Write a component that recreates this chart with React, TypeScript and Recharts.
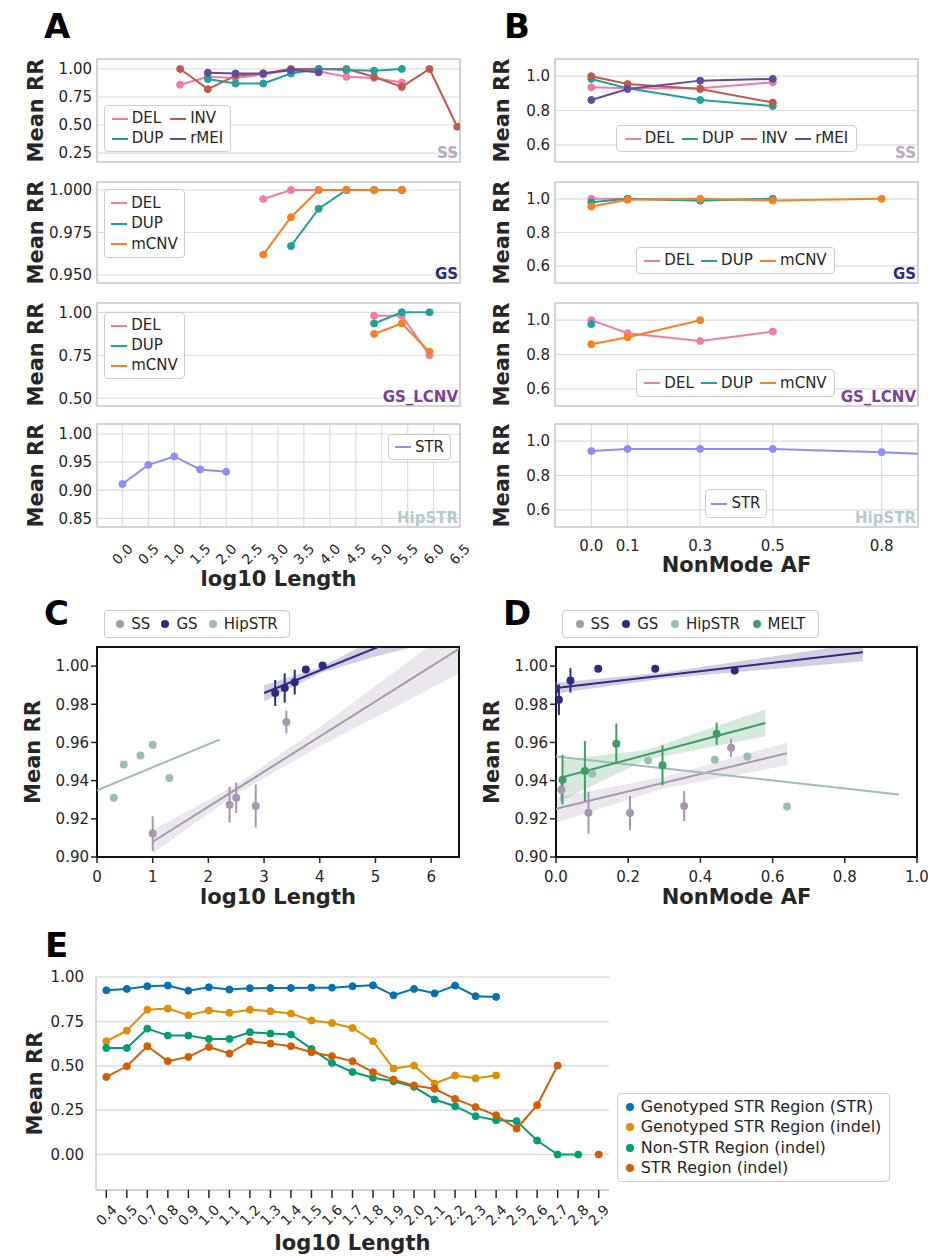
import React from "react";
import {
  LineChart,
  Line,
  ComposedChart,
  Scatter,
  Area,
  ErrorBar,
  XAxis,
  YAxis,
  CartesianGrid,
  ReferenceArea,
  Legend,
} from "recharts";

const FONT = "'DejaVu Sans', sans-serif";
const INK = "#262626";
const GRID = "#dcdcdc";
const FRAME = "#cccccc";

const C_DEL = "#f27ba3";
const C_DUP = "#21a19c";
const C_INV = "#c2584d";
const C_RMEI = "#604c9a";
const C_MCNV = "#f98020";
const C_STR = "#8b8ff3";

const C_SS = "#a697ae";
const C_GS = "#2e2a80";
const C_HIP = "#9dbcb7";
const C_MELT = "#3f9c63";

const C_E = ["#0173b2", "#de8f05", "#029e73", "#d55e00"];

// ---------- A: mean RR by log10 length ----------
const lenTicks = [0, 0.5, 1, 1.5, 2, 2.5, 3, 3.5, 4, 4.5, 5, 5.5, 6, 6.5];

const ssLenX = [1.5, 2, 2.5, 3, 3.5, 4, 4.5, 5, 5.5, 6, 6.5];
const ssLenDEL = [0.86, 0.93, 0.92, 0.95, 0.99, 0.98, 0.93, 0.92, 0.88, null, null];
const ssLenDUP = [null, 0.91, 0.87, 0.87, 0.96, 1.0, 0.99, 0.985, 1.0, null, null];
const ssLenINV = [1.0, 0.82, 0.94, 0.96, 1.0, 1.0, 1.0, 0.93, 0.84, 1.0, 0.485];
const ssLenRMEI = [null, 0.967, 0.96, 0.96, 0.99, 0.97, null, null, null, null, null];

const gsLenX = [3, 3.5, 4, 4.5, 5, 5.5];
const gsLenDEL = [0.9947, 1.0, 1.0, 1.0, 1.0, 1.0];
const gsLenDUP = [null, 0.967, 0.989, 1.0, 1.0, 1.0];
const gsLenMCNV = [0.962, 0.984, 1.0, 1.0, 1.0, 1.0];

const lcnvLenX = [5, 5.5, 6];
const lcnvLenDEL = [0.98, 0.98, 0.75];
const lcnvLenDUP = [0.935, 1.0, 1.0];
const lcnvLenMCNV = [0.874, 0.935, 0.77];

const hipLenX = [0, 0.5, 1, 1.5, 2];
const hipLenSTR = [0.911, 0.945, 0.96, 0.937, 0.933];

// ---------- B: mean RR by non-mode allele frequency ----------
const afTicks = [0, 0.1, 0.3, 0.5, 0.8];

const ssAfX = [0, 0.1, 0.3, 0.5];
const ssAfDEL = [0.935, 0.93, 0.93, 0.964];
const ssAfDUP = [0.984, 0.93, 0.861, 0.826];
const ssAfINV = [1.0, 0.954, 0.925, 0.846];
const ssAfRMEI = [0.861, 0.925, 0.974, 0.984];

const gsAfX = [0, 0.1, 0.3, 0.5, 0.8];
const gsAfDEL = [1.0, 1.0, 0.99, 1.0, null];
const gsAfDUP = [0.98, 1.0, 0.99, 1.0, null];
const gsAfMCNV = [0.955, 0.995, 1.0, 0.99, 1.0];

const lcnvAfX = [0, 0.1, 0.3, 0.5];
const lcnvAfDEL = [1.0, 0.924, 0.879, 0.934];
const lcnvAfDUP = [0.977, null, null, null];
const lcnvAfMCNV = [0.86, 0.901, 1.0, null];

const hipAfX = [0, 0.1, 0.3, 0.5, 0.8, 1.0];
const hipAfSTR = [0.942, 0.955, 0.955, 0.955, 0.936, 0.916];

// ---------- C: regression on log10 length ----------
const cSS = [
  { x: 1.0, y: 0.9123, e: 0.009 },
  { x: 2.38, y: 0.9274, e: 0.0094 },
  { x: 2.5, y: 0.9311, e: 0.008 },
  { x: 2.85, y: 0.9267, e: 0.0113 },
  { x: 3.4, y: 0.9707, e: 0.006 },
];
const cGS = [
  { x: 3.2, y: 0.9859, e: 0.0068 },
  { x: 3.37, y: 0.9885, e: 0.0077 },
  { x: 3.55, y: 0.9916, e: 0.0065 },
  { x: 3.75, y: 0.9982, e: 0.001 },
  { x: 4.05, y: 1.0003, e: 0.001 },
];
const cHIP = [
  { x: 0.3, y: 0.9311 },
  { x: 0.48, y: 0.9484 },
  { x: 0.78, y: 0.9532 },
  { x: 1.0, y: 0.9588 },
  { x: 1.3, y: 0.9414 },
];
const cSSFit = [{ x: 1.0, y: 0.908 }, { x: 6.5, y: 1.009 }];
const cGSFit = [{ x: 3.0, y: 0.9859 }, { x: 6.5, y: 1.0271 }];
const cHIPFit = [{ x: 0, y: 0.9349 }, { x: 2.2, y: 0.9615 }];
const cSSBand = [
  { x: 1.0, r: [0.902, 0.914] },
  { x: 2.5, r: [0.933, 0.938] },
  { x: 4.0, r: [0.958, 0.968] },
  { x: 5.25, r: [0.977, 0.995] },
  { x: 6.5, r: [0.996, 1.022] },
];
const cGSBand = [
  { x: 3.0, r: [0.9815, 0.99] },
  { x: 4.0, r: [0.9962, 0.9992] },
  { x: 5.0, r: [1.005, 1.014] },
  { x: 6.5, r: [1.016, 1.038] },
];

// ---------- D: regression on non-mode AF ----------
const dSS = [
  { x: 0.015, y: 0.9352, e: 0.006 },
  { x: 0.09, y: 0.9232, e: 0.011 },
  { x: 0.205, y: 0.923, e: 0.009 },
  { x: 0.355, y: 0.9267, e: 0.0079 },
  { x: 0.485, y: 0.9572, e: 0.0048 },
];
const dGS = [
  { x: 0.0, y: 0.988, e: 0.004 },
  { x: 0.008, y: 0.9824, e: 0.008 },
  { x: 0.04, y: 0.9925, e: 0.0064 },
  { x: 0.117, y: 0.9986, e: 0.0008 },
  { x: 0.275, y: 0.9986, e: 0.0008 },
  { x: 0.495, y: 0.9977, e: 0.002 },
];
const dHIP = [
  { x: 0.1, y: 0.9436 },
  { x: 0.255, y: 0.9506 },
  { x: 0.44, y: 0.951 },
  { x: 0.53, y: 0.9527 },
  { x: 0.64, y: 0.9265 },
];
const dMELT = [
  { x: 0.018, y: 0.9405, e: 0.013 },
  { x: 0.08, y: 0.945, e: 0.0157 },
  { x: 0.167, y: 0.9593, e: 0.0106 },
  { x: 0.295, y: 0.948, e: 0.0105 },
  { x: 0.445, y: 0.9646, e: 0.0058 },
];
const dSSFit = [{ x: 0, y: 0.9253 }, { x: 0.64, y: 0.9544 }];
const dGSFit = [{ x: 0, y: 0.9885 }, { x: 0.85, y: 1.0073 }];
const dHIPFit = [{ x: 0, y: 0.9527 }, { x: 0.95, y: 0.9328 }];
const dMELTFit = [{ x: 0.02, y: 0.9419 }, { x: 0.58, y: 0.9702 }];
const dSSBand = [
  { x: 0, r: [0.918, 0.931] },
  { x: 0.3, r: [0.936, 0.942] },
  { x: 0.64, r: [0.948, 0.96] },
];
const dGSBand = [
  { x: 0, r: [0.9857, 0.9913] },
  { x: 0.3, r: [0.9935, 0.9967] },
  { x: 0.85, r: [1.0025, 1.012] },
];
const dMELTBand = [
  { x: 0.02, r: [0.93, 0.951] },
  { x: 0.25, r: [0.951, 0.956] },
  { x: 0.58, r: [0.9632, 0.9772] },
];

// ---------- E: mean RR by indel length ----------
const eLen = ["0.4", "0.5", "0.7", "0.8", "0.9", "1.0", "1.1", "1.2", "1.3", "1.4", "1.5", "1.6", "1.7",
  "1.8", "1.9", "2.0", "2.1", "2.2", "2.3", "2.4", "2.5", "2.6", "2.7", "2.8", "2.9"];
const eGenoSTR = [0.925, 0.933, 0.948, 0.952, 0.923, 0.942, 0.929, 0.937, 0.938, 0.938, 0.94, 0.94, 0.948,
  0.953, 0.897, 0.933, 0.908, 0.952, 0.892, 0.888, null, null, null, null, null];
const eGenoIndel = [0.638, 0.698, 0.816, 0.822, 0.785, 0.811, 0.798, 0.816, 0.807, 0.794, 0.755, 0.741, 0.713,
  0.638, 0.484, 0.501, 0.4, 0.445, 0.43, 0.445, null, null, null, null, null];
const eNonSTR = [0.6, 0.6, 0.709, 0.67, 0.67, 0.651, 0.651, 0.689, 0.681, 0.676, 0.595, 0.516, 0.465,
  0.432, 0.413, 0.381, 0.31, 0.272, 0.216, 0.193, 0.188, 0.079, 0.0, 0.0, null];
const eSTRIndel = [0.437, 0.497, 0.61, 0.526, 0.55, 0.606, 0.569, 0.638, 0.625, 0.61, 0.576, 0.554, 0.526,
  0.464, 0.422, 0.389, 0.37, 0.313, 0.267, 0.221, 0.146, 0.278, 0.501, null, 0.0];
const eTicks = [0, 0.25, 0.5, 0.75, 1.0];

// ---------- helpers ----------
const PAD = 6;
type Geo = { x0: number; y0: number; x1: number; y1: number; yw: number; xh: number; pr?: number; pt?: number };

function frameOf(g: Geo) {
  const pr = g.pr ?? PAD;
  const pt = g.pt ?? PAD;
  return {
    left: g.x0 - g.yw - PAD,
    top: g.y0 - pt,
    width: g.x1 - g.x0 + g.yw + PAD + pr,
    height: g.y1 - g.y0 + g.xh + pt + PAD,
    pr,
    pt,
  };
}

function rowsOf(xs: number[], cols: Record<string, (number | null)[]>) {
  return xs.map((x, i) => {
    const r: any = { x };
    for (const k of Object.keys(cols)) r[k] = cols[k][i];
    return r;
  });
}

type LegItem = { name: string; color: string };

function LegendBox({ items, cols, w, h, marker, fontSize = 15 }: {
  items: LegItem[]; cols: number; w: number; h: number; marker: "line" | "dot"; fontSize?: number;
}) {
  return (
    <div
      style={{
        width: w,
        height: h,
        boxSizing: "border-box",
        border: "1px solid #cccccc",
        borderRadius: 4,
        background: "rgba(255,255,255,0.85)",
        display: "grid",
        gridTemplateColumns: `repeat(${cols}, max-content)`,
        justifyContent: "space-evenly",
        alignContent: "space-evenly",
        fontFamily: FONT,
        fontSize,
        color: INK,
        lineHeight: 1,
      }}
    >
      {items.map((it) => (
        <div key={it.name} style={{ display: "flex", alignItems: "center", whiteSpace: "nowrap" }}>
          {marker === "line" ? (
            <span style={{ display: "inline-block", width: 16, height: 2, background: it.color, marginRight: 4 }} />
          ) : (
            <span style={{ display: "inline-block", width: 8, height: 8, borderRadius: "50%", background: it.color, marginRight: 7 }} />
          )}
          {it.name}
        </div>
      ))}
    </div>
  );
}

const tickText = { fontSize: 15, fill: INK, fontFamily: FONT };

// tick label rotated by 45 degrees, centred under its tick
function rotTick(dy: number, fmt: (v: any) => string) {
  return (props: any) => {
    const { x, y, payload } = props;
    const cy = y + dy;
    return (
      <text
        x={x}
        y={cy}
        textAnchor="middle"
        dominantBaseline="central"
        transform={`rotate(-45 ${x} ${cy})`}
        fontSize={14}
        fill={INK}
        fontFamily={FONT}
      >
        {fmt(payload.value)}
      </text>
    );
  };
}

type Series = { key: string; name: string; color: string };
type LegendPos = { x: number; y: number; w: number; h: number; cols: number };

function LinePanel(p: {
  geo: Geo;
  rows: any[];
  series: Series[];
  xDomain: [number, number];
  xTicks: number[];
  xMode: "none" | "rotated" | "flat";
  xDigits: number;
  yDomain: [number, number];
  yTicks: number[];
  yDigits: number;
  legend: LegendPos;
}) {
  const f = frameOf(p.geo);
  const xFmt = (v: number) => v.toFixed(p.xDigits);
  let xTick: any = false;
  let xMargin = 13;
  if (p.xMode === "rotated") {
    xTick = rotTick(27, xFmt);
    xMargin = 0;
  }
  if (p.xMode === "flat") xTick = tickText;
  return (
    <div style={{ position: "absolute", left: f.left, top: f.top }}>
      <LineChart
        width={f.width}
        height={f.height}
        data={p.rows}
        margin={{ top: f.pt, right: f.pr, bottom: PAD, left: PAD }}
      >
        <CartesianGrid stroke={GRID} strokeWidth={1.2} />
        <XAxis
          dataKey="x"
          type="number"
          domain={p.xDomain}
          ticks={p.xTicks}
          interval={0}
          allowDataOverflow
          height={p.geo.xh}
          axisLine={false}
          tickLine={false}
          tickSize={0}
          tickMargin={xMargin}
          tick={xTick}
          tickFormatter={xFmt}
        />
        <YAxis
          type="number"
          domain={p.yDomain}
          ticks={p.yTicks}
          interval={0}
          allowDataOverflow
          width={p.geo.yw}
          axisLine={false}
          tickLine={false}
          tickSize={0}
          tickMargin={5}
          tick={tickText}
          tickFormatter={(v: number) => v.toFixed(p.yDigits)}
        />
        <ReferenceArea
          x1={p.xDomain[0]}
          x2={p.xDomain[1]}
          y1={p.yDomain[0]}
          y2={p.yDomain[1]}
          fill="none"
          stroke={FRAME}
          strokeWidth={1.5}
          ifOverflow="visible"
        />
        {p.series.map((s) => (
          <Line
            key={s.key}
            type="linear"
            dataKey={s.key}
            name={s.name}
            stroke={s.color}
            strokeWidth={2}
            dot={{ r: 3.5, fill: s.color, stroke: s.color, strokeWidth: 1 }}
            isAnimationActive={false}
          />
        ))}
        <Legend
          layout="vertical"
          align="center"
          verticalAlign="middle"
          wrapperStyle={{ left: p.legend.x - f.left, top: p.legend.y - f.top, width: "auto" }}
          content={() => (
            <LegendBox
              items={p.series.map((s) => ({ name: s.name, color: s.color }))}
              cols={p.legend.cols}
              w={p.legend.w}
              h={p.legend.h}
              marker="line"
            />
          )}
        />
      </LineChart>
    </div>
  );
}

type Group = {
  name: string;
  color: string;
  pts: { x: number; y: number; e?: number }[];
  fit: { x: number; y: number }[];
  band?: { x: number; r: number[] }[];
};

function RegPanel(p: {
  geo: Geo;
  xDomain: [number, number];
  xTicks: number[];
  xDigits: number;
  groups: Group[];
  legend: LegendPos;
}) {
  const f = frameOf(p.geo);
  const yDomain: [number, number] = [0.9, 1.01];
  return (
    <div style={{ position: "absolute", left: f.left, top: f.top }}>
      <ComposedChart width={f.width} height={f.height} margin={{ top: f.pt, right: f.pr, bottom: PAD, left: PAD }}>
        <XAxis
          dataKey="x"
          type="number"
          domain={p.xDomain}
          ticks={p.xTicks}
          interval={0}
          allowDataOverflow
          height={p.geo.xh}
          axisLine={false}
          tickLine={{ stroke: INK, strokeWidth: 1.5 }}
          tickSize={6}
          tickMargin={8}
          tick={tickText}
          tickFormatter={(v: number) => v.toFixed(p.xDigits)}
        />
        <YAxis
          type="number"
          domain={yDomain}
          ticks={[0.9, 0.92, 0.94, 0.96, 0.98, 1.0]}
          interval={0}
          allowDataOverflow
          width={p.geo.yw}
          axisLine={false}
          tickLine={{ stroke: INK, strokeWidth: 1.5 }}
          tickSize={6}
          tickMargin={2}
          tick={tickText}
          tickFormatter={(v: number) => v.toFixed(2)}
        />
        {p.groups.map((g) => [
          g.band ? (
            <Area
              key={g.name + "-band"}
              data={g.band}
              dataKey="r"
              type="linear"
              stroke="none"
              fill={g.color}
              fillOpacity={0.22}
              isAnimationActive={false}
            />
          ) : null,
          <Line
            key={g.name + "-fit"}
            data={g.fit}
            dataKey="y"
            type="linear"
            stroke={g.color}
            strokeWidth={2}
            dot={false}
            isAnimationActive={false}
          />,
          <Scatter
            key={g.name + "-pts"}
            data={g.pts}
            dataKey="y"
            fill={g.color}
            isAnimationActive={false}
            shape={(s: any) => <circle cx={s.cx} cy={s.cy} r={4} fill={g.color} />}
          >
            {g.pts[0].e !== undefined ? (
              <ErrorBar dataKey="e" direction="y" width={0} stroke={g.color} strokeWidth={2} />
            ) : null}
          </Scatter>,
        ])}
        <ReferenceArea
          x1={p.xDomain[0]}
          x2={p.xDomain[1]}
          y1={yDomain[0]}
          y2={yDomain[1]}
          fill="none"
          stroke="#111111"
          strokeWidth={2}
          ifOverflow="visible"
        />
        <Legend
          layout="vertical"
          align="center"
          verticalAlign="middle"
          wrapperStyle={{ left: p.legend.x - f.left, top: p.legend.y - f.top, width: "auto" }}
          content={() => (
            <LegendBox
              items={p.groups.map((g) => ({ name: g.name, color: g.color }))}
              cols={p.legend.cols}
              w={p.legend.w}
              h={p.legend.h}
              marker="dot"
            />
          )}
        />
      </ComposedChart>
    </div>
  );
}

function PanelE() {
  const geo: Geo = { x0: 96, y0: 977, x1: 609, y1: 1190, yw: 70, xh: 56, pr: 300, pt: 14 };
  const f = frameOf(geo);
  const rows = eLen.map((len, i) => ({
    len,
    geno: eGenoSTR[i],
    genoIndel: eGenoIndel[i],
    nonStr: eNonSTR[i],
    strIndel: eSTRIndel[i],
  }));
  const series = [
    { key: "geno", name: "Genotyped STR Region (STR)", color: C_E[0] },
    { key: "genoIndel", name: "Genotyped STR Region (indel)", color: C_E[1] },
    { key: "nonStr", name: "Non-STR Region (indel)", color: C_E[2] },
    { key: "strIndel", name: "STR Region (indel)", color: C_E[3] },
  ];
  return (
    <div style={{ position: "absolute", left: f.left, top: f.top }}>
      <LineChart width={f.width} height={f.height} data={rows} margin={{ top: f.pt, right: f.pr, bottom: PAD, left: PAD }}>
        <CartesianGrid vertical={false} stroke={GRID} strokeWidth={1.5} />
        <XAxis
          dataKey="len"
          type="category"
          interval={0}
          padding={{ left: 10.3, right: 10.3 }}
          height={geo.xh}
          axisLine={{ stroke: FRAME, strokeWidth: 1.5 }}
          tickLine={{ stroke: INK, strokeWidth: 1.5 }}
          tickSize={8}
          tickMargin={0}
          tick={rotTick(17, (v) => String(v))}
        />
        <YAxis
          type="number"
          domain={[-0.2, 1]}
          ticks={eTicks}
          interval={0}
          allowDataOverflow
          width={geo.yw}
          axisLine={{ stroke: FRAME, strokeWidth: 1.5 }}
          tickLine={false}
          tickSize={0}
          tickMargin={12}
          tick={tickText}
          tickFormatter={(v: number) => v.toFixed(2)}
        />
        <YAxis
          yAxisId="r"
          orientation="right"
          type="number"
          domain={[0, 1]}
          width={0}
          tick={false}
          tickLine={false}
          axisLine={{ stroke: FRAME, strokeWidth: 1.5 }}
        />
        {series.map((s) => (
          <Line
            key={s.key}
            type="linear"
            dataKey={s.key}
            name={s.name}
            stroke={s.color}
            strokeWidth={2}
            dot={{ r: 3.5, fill: s.color, stroke: s.color, strokeWidth: 1 }}
            isAnimationActive={false}
          />
        ))}
        <Legend
          layout="vertical"
          align="center"
          verticalAlign="middle"
          wrapperStyle={{ left: 617 - f.left, top: 1093 - f.top, width: "auto" }}
          content={() => (
            <LegendBox
              items={series.map((s) => ({ name: s.name, color: s.color }))}
              cols={1}
              w={273}
              h={89}
              marker="dot"
              fontSize={16}
            />
          )}
        />
      </LineChart>
    </div>
  );
}

function Overlay() {
  const letters: [string, number, number][] = [
    ["A", 44, 38],
    ["B", 504, 38],
    ["C", 44, 625],
    ["D", 503, 625],
    ["E", 45, 957],
  ];
  const yTitles: [number, number][] = [
    [36, 110.5], [36, 232.5], [36, 354.5], [36, 475.5],
    [502, 110.5], [502, 232.5], [502, 354.5], [502, 475.5],
    [33, 752], [492, 752], [35, 1083.5],
  ];
  const xTitles: [string, number, number][] = [
    ["log10 Length", 278.5, 579],
    ["NonMode AF", 736.5, 565],
    ["log10 Length", 278, 897],
    ["NonMode AF", 736.5, 897],
    ["log10 Length", 352.5, 1243],
  ];
  const tags: [string, string, number][] = [
    ["SS", "#b3adba", 158],
    ["GS", C_GS, 279],
    ["GS_LCNV", "#7b3fa2", 402],
    ["HipSTR", "#b5cacb", 523],
  ];
  return (
    <svg width={928} height={1256} style={{ position: "absolute", left: 0, top: 0, pointerEvents: "none" }}>
      {letters.map(([t, x, y]) => (
        <text key={t} x={x} y={y} fontSize={34} fontWeight="bold" fontFamily={FONT} fill="#000">
          {t}
        </text>
      ))}
      {yTitles.map(([x, y], i) => (
        <text
          key={"y" + i}
          transform={`translate(${x} ${y}) rotate(-90)`}
          textAnchor="middle"
          dominantBaseline="central"
          fontSize={21}
          fontWeight="bold"
          fontFamily={FONT}
          fill={INK}
        >
          Mean RR
        </text>
      ))}
      {xTitles.map(([t, x, y], i) => (
        <text
          key={"x" + i}
          x={x}
          y={y}
          textAnchor="middle"
          dominantBaseline="central"
          fontSize={21}
          fontWeight="bold"
          fontFamily={FONT}
          fill={INK}
        >
          {t}
        </text>
      ))}
      {[458, 916].map((x) =>
        tags.map(([t, c, y]) => (
          <text key={t + x} x={x} y={y} textAnchor="end" fontSize={15} fontWeight="bold" fontFamily={FONT} fill={c}>
            {t}
          </text>
        ))
      )}
    </svg>
  );
}

export default function App() {
  return (
    <div
      style={{
        position: "absolute",
        left: 0,
        top: 0,
        width: 928,
        height: 1256,
        overflow: "hidden",
        background: "#ffffff",
        fontFamily: FONT,
      }}
    >
      {/* A */}
      <LinePanel
        geo={{ x0: 97, y0: 59, x1: 460, y1: 162, yw: 80, xh: 0 }}
        rows={rowsOf(ssLenX, { del: ssLenDEL, dup: ssLenDUP, inv: ssLenINV, rmei: ssLenRMEI })}
        series={[
          { key: "del", name: "DEL", color: C_DEL },
          { key: "inv", name: "INV", color: C_INV },
          { key: "dup", name: "DUP", color: C_DUP },
          { key: "rmei", name: "rMEI", color: C_RMEI },
        ]}
        xDomain={[0, 6.55]}
        xTicks={lenTicks}
        xMode="none"
        xDigits={1}
        yDomain={[0.17, 1.089]}
        yTicks={[0.25, 0.5, 0.75, 1.0]}
        yDigits={2}
        legend={{ x: 104, y: 105, w: 127, h: 47, cols: 2 }}
      />
      <LinePanel
        geo={{ x0: 97, y0: 182, x1: 460, y1: 283, yw: 80, xh: 0 }}
        rows={rowsOf(gsLenX, { del: gsLenDEL, dup: gsLenDUP, mcnv: gsLenMCNV })}
        series={[
          { key: "del", name: "DEL", color: C_DEL },
          { key: "dup", name: "DUP", color: C_DUP },
          { key: "mcnv", name: "mCNV", color: C_MCNV },
        ]}
        xDomain={[0, 6.55]}
        xTicks={lenTicks}
        xMode="none"
        xDigits={1}
        yDomain={[0.9453, 1.0047]}
        yTicks={[0.95, 0.975, 1.0]}
        yDigits={3}
        legend={{ x: 104, y: 189, w: 81, h: 69, cols: 1 }}
      />
      <LinePanel
        geo={{ x0: 97, y0: 303, x1: 460, y1: 406, yw: 80, xh: 0 }}
        rows={rowsOf(lcnvLenX, { del: lcnvLenDEL, dup: lcnvLenDUP, mcnv: lcnvLenMCNV })}
        series={[
          { key: "del", name: "DEL", color: C_DEL },
          { key: "dup", name: "DUP", color: C_DUP },
          { key: "mcnv", name: "mCNV", color: C_MCNV },
        ]}
        xDomain={[0, 6.55]}
        xTicks={lenTicks}
        xMode="none"
        xDigits={1}
        yDomain={[0.455, 1.054]}
        yTicks={[0.5, 0.75, 1.0]}
        yDigits={2}
        legend={{ x: 104, y: 312, w: 81, h: 67, cols: 1 }}
      />
      <LinePanel
        geo={{ x0: 97, y0: 424, x1: 460, y1: 527, yw: 80, xh: 44, pr: 18 }}
        rows={rowsOf(hipLenX, { str: hipLenSTR })}
        series={[{ key: "str", name: "STR", color: C_STR }]}
        xDomain={[-0.49, 6.51]}
        xTicks={lenTicks}
        xMode="rotated"
        xDigits={1}
        yDomain={[0.8345, 1.0178]}
        yTicks={[0.85, 0.9, 0.95, 1.0]}
        yDigits={2}
        legend={{ x: 388, y: 434, w: 63, h: 26, cols: 1 }}
      />

      {/* B */}
      <LinePanel
        geo={{ x0: 555, y0: 59, x1: 918, y1: 162, yw: 80, xh: 0 }}
        rows={rowsOf(ssAfX, { del: ssAfDEL, dup: ssAfDUP, inv: ssAfINV, rmei: ssAfRMEI })}
        series={[
          { key: "del", name: "DEL", color: C_DEL },
          { key: "dup", name: "DUP", color: C_DUP },
          { key: "inv", name: "INV", color: C_INV },
          { key: "rmei", name: "rMEI", color: C_RMEI },
        ]}
        xDomain={[-0.1, 0.9]}
        xTicks={afTicks}
        xMode="none"
        xDigits={1}
        yDomain={[0.5, 1.1]}
        yTicks={[0.6, 0.8, 1.0]}
        yDigits={1}
        legend={{ x: 616, y: 125, w: 241, h: 27, cols: 4 }}
      />
      <LinePanel
        geo={{ x0: 555, y0: 182, x1: 918, y1: 283, yw: 80, xh: 0 }}
        rows={rowsOf(gsAfX, { del: gsAfDEL, dup: gsAfDUP, mcnv: gsAfMCNV })}
        series={[
          { key: "del", name: "DEL", color: C_DEL },
          { key: "dup", name: "DUP", color: C_DUP },
          { key: "mcnv", name: "mCNV", color: C_MCNV },
        ]}
        xDomain={[-0.1, 0.9]}
        xTicks={afTicks}
        xMode="none"
        xDigits={1}
        yDomain={[0.5, 1.1]}
        yTicks={[0.6, 0.8, 1.0]}
        yDigits={1}
        legend={{ x: 636, y: 247, w: 199, h: 27, cols: 3 }}
      />
      <LinePanel
        geo={{ x0: 555, y0: 303, x1: 918, y1: 406, yw: 80, xh: 0 }}
        rows={rowsOf(lcnvAfX, { del: lcnvAfDEL, dup: lcnvAfDUP, mcnv: lcnvAfMCNV })}
        series={[
          { key: "del", name: "DEL", color: C_DEL },
          { key: "dup", name: "DUP", color: C_DUP },
          { key: "mcnv", name: "mCNV", color: C_MCNV },
        ]}
        xDomain={[-0.1, 0.9]}
        xTicks={afTicks}
        xMode="none"
        xDigits={1}
        yDomain={[0.5, 1.1]}
        yTicks={[0.6, 0.8, 1.0]}
        yDigits={1}
        legend={{ x: 636, y: 369, w: 199, h: 28, cols: 3 }}
      />
      <LinePanel
        geo={{ x0: 555, y0: 424, x1: 918, y1: 527, yw: 80, xh: 30 }}
        rows={rowsOf(hipAfX, { str: hipAfSTR })}
        series={[{ key: "str", name: "STR", color: C_STR }]}
        xDomain={[-0.1, 0.9]}
        xTicks={afTicks}
        xMode="flat"
        xDigits={1}
        yDomain={[0.5, 1.1]}
        yTicks={[0.6, 0.8, 1.0]}
        yDigits={1}
        legend={{ x: 705, y: 489, w: 62, h: 29, cols: 1 }}
      />

      {/* C */}
      <RegPanel
        geo={{ x0: 97, y0: 647, x1: 459, y1: 857, yw: 70, xh: 30 }}
        xDomain={[0, 6.5]}
        xTicks={[0, 1, 2, 3, 4, 5, 6]}
        xDigits={0}
        groups={[
          { name: "SS", color: C_SS, pts: cSS, fit: cSSFit, band: cSSBand },
          { name: "GS", color: C_GS, pts: cGS, fit: cGSFit, band: cGSBand },
          { name: "HipSTR", color: C_HIP, pts: cHIP, fit: cHIPFit },
        ]}
        legend={{ x: 104, y: 610, w: 186, h: 28, cols: 3 }}
      />

      {/* D */}
      <RegPanel
        geo={{ x0: 556, y0: 647, x1: 917, y1: 857, yw: 70, xh: 30, pr: 11 }}
        xDomain={[0, 1]}
        xTicks={[0, 0.2, 0.4, 0.6, 0.8, 1.0]}
        xDigits={1}
        groups={[
          { name: "SS", color: C_SS, pts: dSS, fit: dSSFit, band: dSSBand },
          { name: "GS", color: C_GS, pts: dGS, fit: dGSFit, band: dGSBand },
          { name: "HipSTR", color: C_HIP, pts: dHIP, fit: dHIPFit },
          { name: "MELT", color: C_MELT, pts: dMELT, fit: dMELTFit, band: dMELTBand },
        ]}
        legend={{ x: 562, y: 610, w: 257, h: 28, cols: 4 }}
      />

      {/* E */}
      <PanelE />

      <Overlay />
    </div>
  );
}
